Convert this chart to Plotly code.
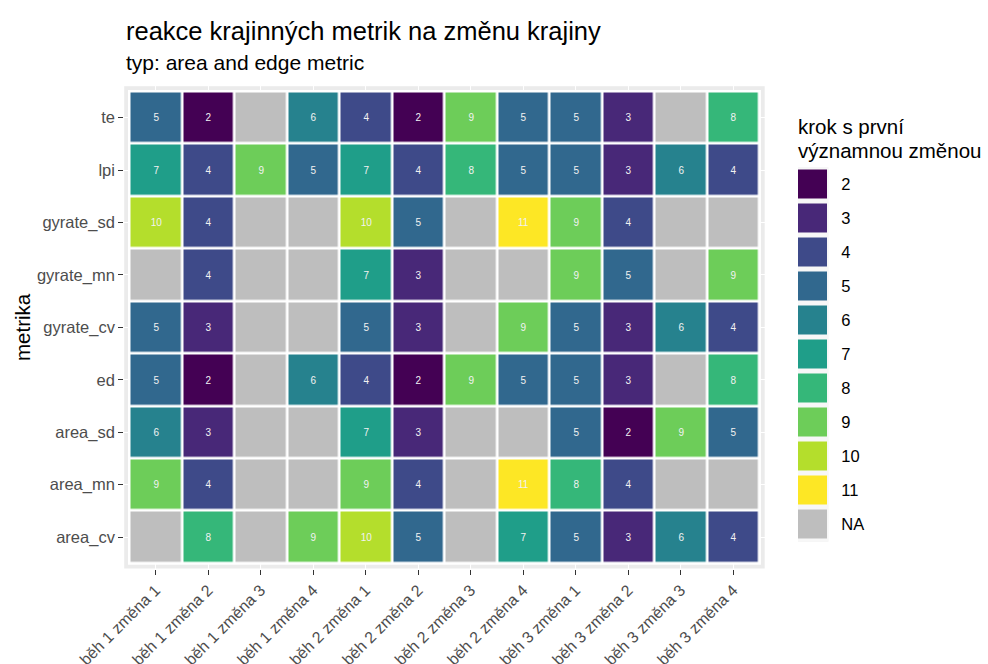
import plotly.graph_objects as go

# columns: run x change
columns = [
    "běh 1 změna 1", "běh 1 změna 2", "běh 1 změna 3", "běh 1 změna 4",
    "běh 2 změna 1", "běh 2 změna 2", "běh 2 změna 3", "běh 2 změna 4",
    "běh 3 změna 1", "běh 3 změna 2", "běh 3 změna 3", "běh 3 změna 4",
]

# metrics from bottom to top
metrics = ["area_cv", "area_mn", "area_sd", "ed", "gyrate_cv",
           "gyrate_mn", "gyrate_sd", "lpi", "te"]

N = None  # no significant change
area_cv = [N, 8, N, 9, 10, 5, N, 7, 5, 3, 6, 4]
area_mn = [9, 4, N, N, 9, 4, N, 11, 8, 4, N, N]
area_sd = [6, 3, N, N, 7, 3, N, N, 5, 2, 9, 5]
ed = [5, 2, N, 6, 4, 2, 9, 5, 5, 3, N, 8]
gyrate_cv = [5, 3, N, N, 5, 3, N, 9, 5, 3, 6, 4]
gyrate_mn = [N, 4, N, N, 7, 3, N, N, 9, 5, N, 9]
gyrate_sd = [10, 4, N, N, 10, 5, N, 11, 9, 4, N, N]
lpi = [7, 4, 9, 5, 7, 4, 8, 5, 5, 3, 6, 4]
te = [5, 2, N, 6, 4, 2, 9, 5, 5, 3, N, 8]

rows = [area_cv, area_mn, area_sd, ed, gyrate_cv, gyrate_mn, gyrate_sd, lpi, te]

# legend levels
levels = ["2", "3", "4", "5", "6", "7", "8", "9", "10", "11", "NA"]
level_values = [2, 3, 4, 5, 6, 7, 8, 9, 10, 11, N]

# discrete viridis for steps 2..11, grey for missing
viridis10 = ["#440154", "#482878", "#3E4A89", "#31688E", "#26828E",
             "#1F9E89", "#35B779", "#6DCD59", "#B4DE2C", "#FDE725"]
na_color = "#BEBEBE"

# code 1 -> NA, codes 2..11 -> palette
palette = [na_color] + viridis10
colorscale = []
n = len(palette)
for i, c in enumerate(palette):
    colorscale.append([i / n, c])
    colorscale.append([(i + 1) / n, c])


def code(v):
    return 1 if v is None else v


z = [[code(v) for v in r] for r in rows]
txt = [["" if v is None else str(v) for v in r] for r in rows]

W, H = 988, 664
px_x = lambda p: p / W
px_y = lambda p: 1 - p / H

fig = go.Figure()

fig.add_trace(go.Heatmap(
    x=columns, y=metrics, z=z, text=txt, texttemplate="%{text}",
    textfont=dict(family="Liberation Sans, Arial, sans-serif", size=10, color="#F2F2F2"),
    colorscale=colorscale, zmin=0.5, zmax=11.5, showscale=False,
    xgap=2.7, ygap=2.7, hoverinfo="skip",
    xaxis="x", yaxis="y",
))

# legend keys drawn as a one-column heatmap
fig.add_trace(go.Heatmap(
    x=["k"], y=levels, z=[[code(v)] for v in level_values],
    colorscale=colorscale, zmin=0.5, zmax=11.5, showscale=False,
    xgap=1, ygap=5, hoverinfo="skip",
    xaxis="x2", yaxis="y2",
))

font_family = "Liberation Sans, Arial, sans-serif"

fig.update_layout(
    width=W, height=H,
    margin=dict(l=0, r=0, t=0, b=0),
    paper_bgcolor="white",
    plot_bgcolor="#EBEBEB",
    font=dict(family=font_family, color="#000000"),
    xaxis=dict(
        type="category", categoryorder="array", categoryarray=columns,
        domain=[px_x(124.2), px_x(764.7)], range=[-0.6, 11.6],
        showgrid=True, gridcolor="white", gridwidth=1.1, zeroline=False,
        ticks="outside", ticklen=5, tickwidth=1.1, tickcolor="#333333",
        tickangle=-45, tickfont=dict(size=16, color="#4D4D4D"),
        automargin=False, fixedrange=True, anchor="y",
    ),
    yaxis=dict(
        type="category", categoryorder="array", categoryarray=metrics,
        domain=[px_y(568.5), px_y(86.2)], range=[-0.6, 8.6],
        showgrid=True, gridcolor="white", gridwidth=1.1, zeroline=False,
        ticks="outside", ticklen=5, tickwidth=1.1, tickcolor="#333333",
        tickfont=dict(size=16.5, color="#4D4D4D"),
        automargin=False, fixedrange=True, anchor="x",
    ),
    xaxis2=dict(
        domain=[px_x(798), px_x(828.3)], range=[-0.5, 0.5],
        showgrid=False, zeroline=False, showticklabels=False, ticks="",
        automargin=False, fixedrange=True, anchor="y2",
    ),
    yaxis2=dict(
        type="category", categoryorder="array", categoryarray=levels,
        domain=[px_y(541.5), px_y(167.5)], range=[10.5, -0.5],
        side="right", showgrid=False, zeroline=False, ticks="",
        ticklabelstandoff=12,
        tickfont=dict(size=16.5, color="#000000"),
        automargin=False, fixedrange=True, anchor="x2",
    ),
    showlegend=False,
)

# white field under the tiles so the gaps read as white borders
fig.add_shape(type="rect", xref="x", yref="y", x0=-0.5, x1=11.5, y0=-0.5, y1=8.5,
              fillcolor="white", line=dict(color="white", width=3), layer="below")
# light key background behind the legend swatches
fig.add_shape(type="rect", xref="x2 domain", yref="y2 domain", x0=0, x1=1, y0=0, y1=1,
              fillcolor="#F7F7F7", line=dict(width=0), layer="below")

ann = [
    dict(text="reakce krajinných metrik na změnu krajiny", x=px_x(124), y=px_y(31),
         font=dict(size=25.5, color="#000000")),
    dict(text="typ: area and edge metric", x=px_x(124), y=px_y(62),
         font=dict(size=21, color="#000000")),
    dict(text="krok s první", x=px_x(796), y=px_y(126),
         font=dict(size=20.5, color="#000000")),
    dict(text="významnou změnou", x=px_x(796), y=px_y(150),
         font=dict(size=20.5, color="#000000")),
]
for a in ann:
    fig.add_annotation(xref="paper", yref="paper", xanchor="left", yanchor="middle",
                       showarrow=False, **a)

fig.add_annotation(text="metrika", xref="paper", yref="paper",
                   x=px_x(22), y=px_y(327), xanchor="center", yanchor="middle",
                   textangle=-90, showarrow=False,
                   font=dict(size=20.5, color="#000000"))

fig.write_html("out.html")
